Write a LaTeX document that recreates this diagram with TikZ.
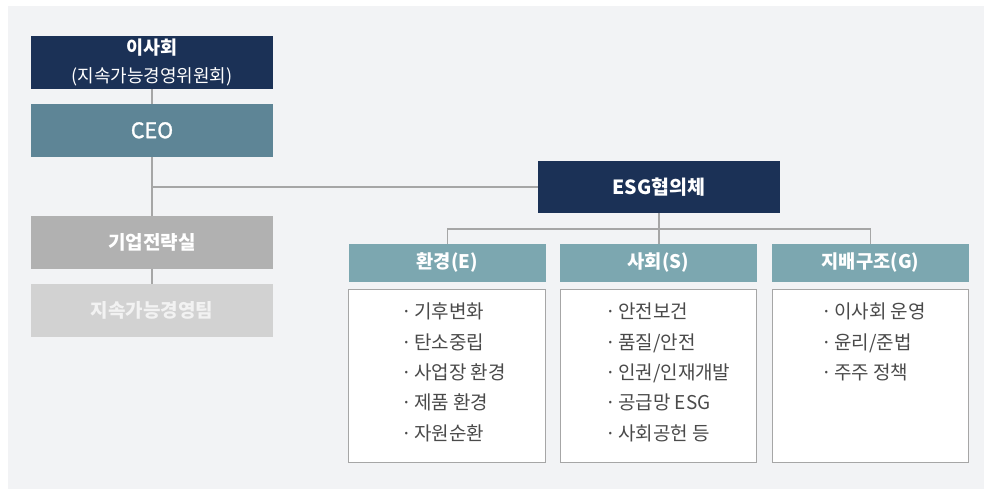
\documentclass[tikz,border=0pt]{standalone}
\usepackage{fontspec}
\setmainfont{Noto Sans CJK KR}
\newfontfamily\medfont[FakeBold=1.2]{Noto Sans CJK KR}
\definecolor{bgc}{HTML}{F2F3F5}
\definecolor{navy}{HTML}{1B3156}
\definecolor{ceoc}{HTML}{5E8596}
\definecolor{stratc}{HTML}{B1B1B1}
\definecolor{teamc}{HTML}{D2D2D2}
\definecolor{headc}{HTML}{7CA7B0}
\definecolor{linec}{HTML}{A6A6A6}
\definecolor{itemc}{HTML}{4A4A4A}
\newcommand{\bul}{·\hspace{0.12em}}
\begin{document}
\begin{tikzpicture}[x=1pt,y=-1pt,
  box/.style={rectangle, inner sep=0pt, minimum width=242pt, minimum height=52.7pt, align=center, text=white},
  head/.style={rectangle, inner sep=0pt, fill=headc, minimum width=196.7pt, minimum height=37.7pt, text=white, font=\fontsize{18.7}{20}\selectfont\bfseries},
  listbox/.style={rectangle, inner sep=0pt, fill=white, draw=linec, line width=1pt, minimum width=196.5pt, minimum height=173.5pt},
  item/.style={anchor=west, inner sep=0pt, text=itemc, font=\fontsize{19}{20}\selectfont, text height=0.88em, text depth=0.12em},
  conn/.style={draw=linec, line width=1.3pt}]
\useasboundingbox (0,0) rectangle (984,489);
\fill[white] (0,0) rectangle (984,489);
\fill[bgc] (8,6) rectangle (984,489);

\node[box, fill=navy, font=\fontsize{18}{20}\selectfont] (board) at (152,62.8) {{\fontsize{18.5}{20}\selectfont\bfseries 이사회}\\[8pt](지속가능경영위원회)};
\node[box, fill=ceoc, font=\fontsize{21.5}{22}\selectfont\medfont] (ceo) at (152,130.3) {CEO};
\node[box, fill=stratc, font=\fontsize{19}{22}\selectfont\bfseries] (strat) at (152,242.3) {기업전략실};
\node[box, fill=teamc, text=white!95!black, font=\fontsize{19}{22}\selectfont\bfseries] (team) at (152,310.3) {지속가능경영팀};
\node[box, fill=navy, minimum height=52pt, font=\fontsize{19.5}{22}\selectfont\bfseries] (esg) at (659,187) {ESG협의체};

\node[head] (hE) at (447.3,262.8) {환경(E)};
\node[head] (hS) at (658.3,262.8) {사회(S)};
\node[head] (hG) at (870.5,262.8) {지배구조(G)};

\node[listbox] (bE) at (447,376.2) {};
\node[listbox] (bS) at (658.7,376.2) {};
\node[listbox] (bG) at (870.5,376.2) {};

\coordinate (br) at (659,229);
\draw[conn] (board.south) -- (ceo.north);
\draw[conn] (ceo.south) -- (strat.north);
\draw[conn] (strat.south) -- (team.north);
\draw[conn] (ceo.south |- esg.west) -- (esg.west);
\draw[conn] (esg.south) -- (esg.south |- hS.north);
\draw[conn] (hE.north) -- (hE.north |- br) -- (hG.north |- br) -- (hG.north);

\node[item] (e1) at (401,315) {\bul 기후변화};
\node[item] (e2) at (401,345.3) {\bul 탄소중립};
\node[item] (e3) at (401,375.6) {\bul 사업장 환경};
\node[item] (e4) at (401,405.9) {\bul 제품 환경};
\node[item] (e5) at (401,436.2) {\bul 자원순환};

\node[item] (s1) at (605,315) {\bul 안전보건};
\node[item] (s2) at (605,345.3) {\bul 품질/안전};
\node[item] (s3) at (605,375.6) {\bul 인권/인재개발};
\node[item] (s4) at (605,405.9) {\bul 공급망 ESG};
\node[item] (s5) at (605,436.2) {\bul 사회공헌 등};

\node[item] (g1) at (821,315) {\bul 이사회 운영};
\node[item] (g2) at (821,345.3) {\bul 윤리/준법};
\node[item] (g3) at (821,375.6) {\bul 주주 정책};
\end{tikzpicture}
\end{document}
